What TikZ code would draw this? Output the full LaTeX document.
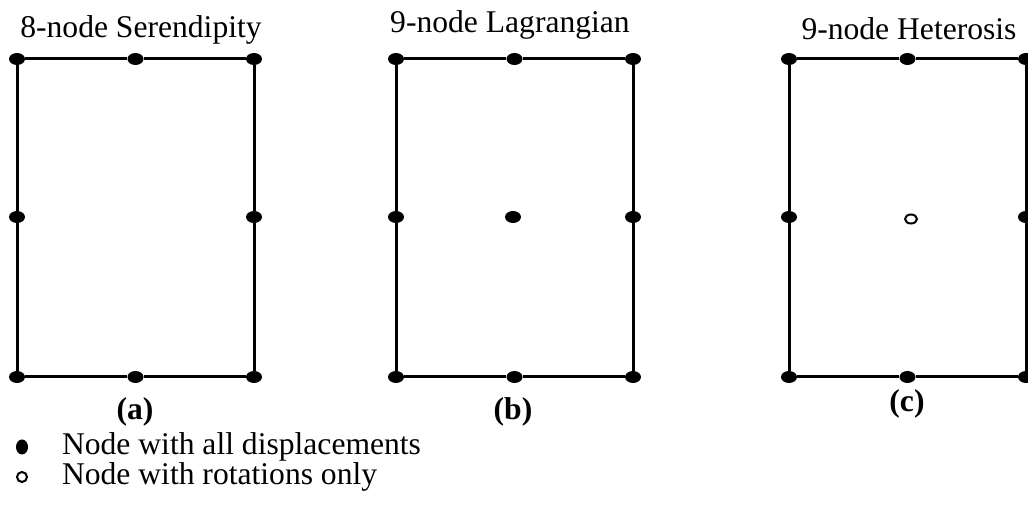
\documentclass[tikz,border=0pt]{standalone}
\usepackage{fontspec}
\setmainfont{Liberation Serif}
\usetikzlibrary{shapes.geometric}

\begin{document}
\begin{tikzpicture}[x=0.5pt,y=-0.5pt,font=\fontsize{15.8}{19}\selectfont,
  dot/.style={ellipse,fill,inner sep=0pt,minimum width=8pt,minimum height=6pt},
  hole/.style={ellipse,draw,line width=1pt,inner sep=0pt,minimum width=6pt,minimum height=4.5pt},
  edge/.style={line width=1.5pt},
  tag/.style={font=\fontsize{15.8}{19}\selectfont\bfseries}]
\useasboundingbox (0,0) rectangle (1028,506);
\clip (0,0) rectangle (1028,506);
% three elements: corners and mid-side nodes
\foreach\p/\x in{a/17,b/396,c/789}{
    \node[dot]at(\x,59)(\p1){};
    \node[dot]at(\x+118.5,59)(\p2){};
    \node[dot]at(\x+237,59)(\p3){};
    \node[dot]at(\x+237,217)(\p4){};
    \node[dot]at(\x+237,377)(\p5){};
    \node[dot]at(\x+118.5,377)(\p6){};
    \node[dot]at(\x,377)(\p7){};
    \node[dot]at(\x,217)(\p8){};
    \draw[edge](\p1)--(\p2)--(\p3)--(\p4)--(\p5)--(\p6)--(\p7)--(\p8)--(\p1);
}
\node[dot]at(513,217)(b9){};
\node[hole]at(911,219)(c9){};
% titles
\node at(141,30)(ta){8-node Serendipity};
\node at(510,25)(tb){9-node Lagrangian};
\node at(909,29)(tc){9-node Heterosis};
\node[tag]at(135,412)(la){(a)};
\node[tag]at(513,412)(lb){(b)};
\node[tag]at(907,404)(lc){(c)};
% legend
\node[ellipse,fill,inner sep=0pt,minimum width=6pt,minimum height=7.5pt]at(22,447)(k1){};
\node[circle,draw,line width=1pt,inner sep=0pt,minimum size=5pt]at(22,477)(k2){};
\node[anchor=west]at(55,447)(t1){Node with all displacements};
\node[anchor=west]at(55,477)(t2){Node with rotations only};
\end{tikzpicture}
\end{document}
